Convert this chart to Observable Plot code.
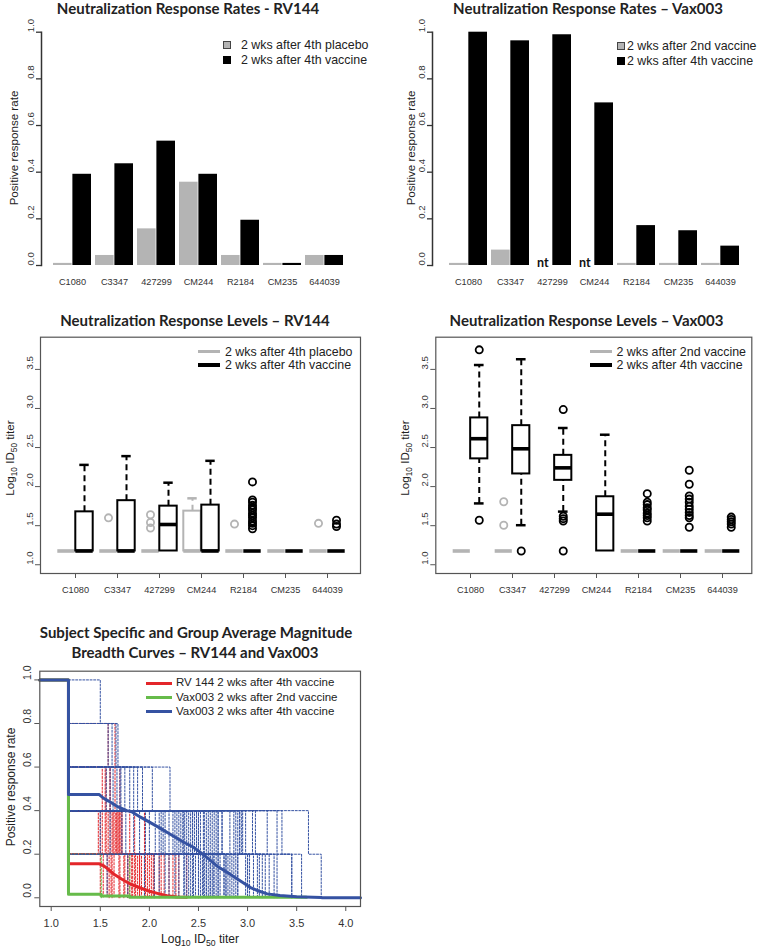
<!DOCTYPE html>
<html><head><meta charset="utf-8">
<script src="https://cdn.jsdelivr.net/npm/d3@7"></script>
<script src="https://cdn.jsdelivr.net/npm/@observablehq/plot@0.6"></script>
<style>
body{margin:0;background:#fff;}
#root{position:relative;width:766px;height:949px;overflow:hidden;font-family:"Liberation Sans",Arial,sans-serif;color:#222;background:#fff;}
#root svg{position:absolute;}
.t{position:absolute;white-space:nowrap;line-height:1.15;pointer-events:none;}
.title{font-family:Lato,"Open Sans",sans-serif;font-weight:700;font-size:15px;transform:translate(-50%,-50%);color:#222;}
.leg{font-size:12.4px;transform:translate(0,-50%);}
.ytitle{font-size:11.6px;transform:translate(-50%,-50%) rotate(-90deg);}
.xtitle{font-size:12px;transform:translate(-50%,-50%);}
sub{font-size:0.72em;vertical-align:-0.3em;line-height:0;}
.sw{position:absolute;}
</style></head>
<body><div id="root"></div>
<script>
// ---------------- data ----------------
const strains = ["C1080","C3347","427299","CM244","R2184","CM235","644039"];
// response rates
const rv144PlaceboRate = [0.009,0.043,0.157,0.357,0.043,0.009,0.043];
const rv144VaccineRate = [0.391,0.436,0.533,0.391,0.194,0.009,0.043];
const vax003SecondRate = [0.009,0.066,null,null,0.009,0.009,0.009];
const vax003FourthRate = [1.0,0.963,0.989,0.697,0.171,0.149,0.083];
const rateTicks = [0,0.2,0.4,0.6,0.8,1.0];
const titerTicks = [1.0,1.5,2.0,2.5,3.0,3.5];
const breadthTicks = [1.0,1.5,2.0,2.5,3.0,3.5,4.0];
const lod = 1.176;
// box stats: [q1, median, q3, lower whisker, upper whisker]
const rv144PlaceboBox = [[lod,lod,lod,lod,lod],[lod,lod,lod,lod,lod],[lod,lod,lod,lod,lod],[lod,lod,1.686,lod,1.85],[lod,lod,lod,lod,lod],[lod,lod,lod,lod,lod],[lod,lod,lod,lod,lod]];
const rv144PlaceboOut = [[],[1.6],[1.47,1.54,1.64],[],[1.52],[],[1.53]];
const rv144VaccineBox = [[lod,lod,1.677,lod,2.278],[lod,lod,1.82,lod,2.39],[lod,1.515,1.75,lod,2.05],[lod,lod,1.763,lod,2.33],[lod,lod,lod,lod,lod],[lod,lod,lod,lod,lod],[lod,lod,lod,lod,lod]];
const rv144VaccineOut = [[],[],[],[],[1.46,1.5,1.53,1.56,1.6,1.63,1.66,1.7,1.73,1.76,1.8,1.83,2.06],[],[1.49,1.52,1.57]];
const vax003SecondBox = [[lod,lod,lod,lod,lod],[lod,lod,lod,lod,lod],null,null,[lod,lod,lod,lod,lod],[lod,lod,lod,lod,lod],[lod,lod,lod,lod,lod]];
const vax003SecondOut = [[],[1.806,1.506],[],[],[],[],[]];
const vax003FourthBox = [[2.355,2.613,2.879,1.785,3.556],[2.162,2.484,2.78,1.506,3.63],[2.08,2.24,2.40,1.68,2.75],[lod,1.647,1.87,lod,2.664],[lod,lod,lod,lod,lod],[lod,lod,lod,lod,lod],[lod,lod,lod,lod,lod]];
const vax003FourthOut = [[3.75,1.57],[lod],[2.986,1.62,1.59,1.56,lod],[],[1.56,1.6,1.63,1.66,1.7,1.73,1.77,1.8,1.91],[1.48,1.6,1.63,1.67,1.71,1.75,1.8,1.84,1.88,2.03,2.21],[1.48,1.52,1.55,1.58,1.61]];
// magnitude-breadth: subject titers of positive isolates (5 isolates)
const nIsolates = 5;
const vax4Subjects = [[3.02,2.90,1.50,1.66,1.80],[2.65,2.42,1.58,1.93],[2.78,2.55,1.62,1.71],[2.52,2.2,1.68,1.84],
 [3.27,3.05,2.03],[2.86,2.7,2.21],[2.35,2.14,1.56],[2.6,2.46,1.75],[3.55,3.3,1.88],[2.47,2.32],
 [3.75,3.62],[3.45,3.2],[3.35,3.45],[3.18,2.98],[3.1,2.82],[2.95,3.12],[2.88,2.74],[2.82,2.64],[2.74,2.78],[2.7,2.6],
 [2.62,2.5],[2.58,2.48],[2.55,2.38],[2.42,2.26],[2.38,2.1],[2.3,2.0],[2.2,1.9],[2.05,1.72],[1.78,1.5],[1.57],
 [2.9,2.66],[2.45,2.3],[2.68,2.52],[3.0,2.86],[2.56,2.44],[2.76,2.58],[3.22,2.92],[2.5,2.16],[2.62,2.76],[2.84,2.68],
 [2.36,2.06],[3.06,2.94],[2.66,2.35],[2.48,2.62],[2.92,3.0],[2.72,2.4],[3.15,2.7],[2.4,2.24],[2.98,2.88],[2.8,2.56],
 [2.54,2.28],[3.3,3.08],[2.64,1.96],[2.44,2.12],[1.95,1.84],[2.26,1.6],[2.16,1.76],
 [2.58,2.34,1.63],[2.9,2.5,1.7],[2.7,2.44,1.6],[2.5,2.36,1.67],[2.1]];
const rv144Subjects = [[1.58,1.65,1.7,1.9],[1.65,1.7,1.95,2.27],[1.55,1.68,2.1],[1.6,1.72,1.88],[1.52,1.66,1.82],
 [1.5,1.8],[1.62,2.05],[1.48,1.75],[1.67,2.2],[1.56,1.92],[1.85,2.38],[1.7,1.98],
 [1.53],[1.64],[1.78],[1.9],[2.12],[1.59],[1.5],[2.3],
 [1.55,1.62],[1.72,1.85],[1.6,2.0],[1.66,1.78],[1.58,1.96],[1.52,1.7],[1.8,2.15],[1.63,1.9],
 [1.57],[1.69],[1.74],[1.83],[1.95],[2.02],[2.24],[1.61],[1.56,1.64,1.86],[1.6,1.69,2.04]];
const vax2Subjects = [[1.51],[1.8]];
// group-average curves [log10 titer, rate]
const rv144Mean = [[0.884,1],[1.176,1],[1.176,0.156],[1.49,0.156],[1.53,0.148],[1.57,0.135],[1.64,0.108],[1.72,0.085],[1.81,0.062],[1.91,0.045],[2.0,0.03],[2.1,0.018],[2.18,0.009],[2.28,0.004],[2.38,0.003]];
const vax2Mean = [[0.884,1],[1.176,1],[1.176,0.016],[1.51,0.016],[1.51,0.008],[1.8,0.008],[1.8,0.003],[3.6,0.003]];
const vax4Mean = [[0.884,1],[1.176,1],[1.176,0.474],[1.49,0.474],[1.53,0.458],[1.58,0.445],[1.67,0.42],[1.77,0.40],[1.82,0.395],[1.91,0.37],[2.01,0.345],[2.1,0.322],[2.2,0.295],[2.35,0.255],[2.45,0.232],[2.52,0.208],[2.6,0.18],[2.69,0.145],[2.8,0.115],[2.9,0.085],[3.03,0.047],[3.12,0.03],[3.2,0.018],[3.33,0.01],[3.5,0.005],[3.75,0.001],[3.76,0],[4.15,0]];

// ---------------- styles ----------------
const GRAY = "#b4b4b4";
const RED = "#e3262a", GREEN = "#66bb4a", BLUE = "#3552a2";
const FONT = "Liberation Sans, Arial, sans-serif";
const root = document.getElementById("root");

function place(svg, left, top) {
  svg.style.left = left + "px"; svg.style.top = top + "px"; root.appendChild(svg);
}
function txt(html, x, y, cls, extra) {
  const d = document.createElement("div");
  d.className = "t " + cls; d.innerHTML = html;
  d.style.left = x + "px"; d.style.top = y + "px";
  if (extra) Object.assign(d.style, extra);
  root.appendChild(d);
}
function swatch(x, y, w, h, color, border) {
  const d = document.createElement("div");
  d.className = "sw";
  Object.assign(d.style, {left: x + "px", top: y + "px", width: w + "px", height: h + "px", background: color, boxSizing: "border-box", border: border || "none"});
  root.appendChild(d);
}
const fmt1 = d => d.toFixed(1);

// ---------------- rate bar panels ----------------
function ratePanel(a, b, o) {
  const rows = [];
  strains.forEach((s, i) => {
    if (a[i] != null) rows.push({strain: s, v: a[i], g: 0});
    rows.push({strain: s, v: b[i], g: 1});
  });
  const pad = 0.085;
  const step = (o.x1 - o.x0) / (strains.length - pad);
  const bw = step * (1 - pad);
  const half = bw / 2;
  const nt = strains.filter((s, i) => a[i] == null);
  return Plot.plot({
    width: 383, height: 300,
    marginTop: 31.7, marginBottom: 35, marginLeft: o.axis, marginRight: 10,
    style: {fontFamily: FONT, color: "#222", background: "transparent", overflow: "visible"},
    x: {type: "band", domain: strains, range: [o.x0, o.x1], paddingInner: pad, paddingOuter: 0, label: null},
    y: {domain: [0, 1], label: null},
    marks: [
      Plot.frame({anchor: "left", stroke: "#333", strokeWidth: 1.5}),
      Plot.axisY({ticks: rateTicks, tickSize: 5, tickFormat: () => "", label: null, stroke: "#333", strokeWidth: 1.3}),
      Plot.text(rateTicks, {y: d => d, text: fmt1, frameAnchor: "left", dx: -11, rotate: -90, fontSize: 9.6, fill: "#333"}),
      Plot.axisX({tickSize: 0, tickPadding: 13, fontSize: 9.2, label: null, fill: "#333"}),
      Plot.barY(rows.filter(d => d.g === 0), {x: "strain", y: "v", fill: GRAY, insetRight: half}),
      Plot.barY(rows.filter(d => d.g === 1), {x: "strain", y: "v", fill: "#000", insetLeft: half}),
      Plot.text(nt, {x: d => d, y: () => 0, text: () => "nt", dx: -half / 2, lineAnchor: "bottom", dy: 1,
        fontFamily: "Lato, Open Sans, sans-serif", fontWeight: 700, fontSize: 12.5, fill: "#111"})
    ]
  });
}
place(ratePanel(rv144PlaceboRate, rv144VaccineRate, {axis: 41, x0: 52, x1: 345}), 0, 0);
place(ratePanel(vax003SecondRate, vax003FourthRate, {axis: 49, x0: 65, x1: 357}), 383, 0);

// ---------------- box panels ----------------
function boxPanel(gBox, gOut, kBox, kOut, o) {
  const bw = (o.x1 - o.x0) / strains.length;
  const boxW = o.boxW;
  const off = boxW / 2;
  const rows = (box, g) => strains.map((s, i) => box[i] ? {strain: s, g, q1: box[i][0], med: box[i][1], q3: box[i][2], lo: box[i][3], hi: box[i][4]} : null).filter(d => d);
  const outs = (out) => strains.flatMap((s, i) => out[i].map(v => ({strain: s, v})));
  const gr = rows(gBox, 0), kr = rows(kBox, 1);
  const sides = [
    {r: gr, out: outs(gOut), color: GRAY, dx: -off, inL: bw / 2 - boxW, inR: bw / 2, cL: bw / 2 - off - 5, cR: bw / 2 + off - 5},
    {r: kr, out: outs(kOut), color: "#000", dx: off, inL: bw / 2, inR: bw / 2 - boxW, cL: bw / 2 + off - 5, cR: bw / 2 - off - 5}
  ];
  const marks = [Plot.frame({stroke: "#555", strokeWidth: 1.2})];
  for (const s of sides) {
    marks.push(
      Plot.ruleX(s.r.filter(d => d.hi > d.q3), {x: "strain", y1: "q3", y2: "hi", dx: s.dx, stroke: s.color, strokeWidth: 2, strokeDasharray: "6,4"}),
      Plot.ruleX(s.r.filter(d => d.lo < d.q1), {x: "strain", y1: "lo", y2: "q1", dx: s.dx, stroke: s.color, strokeWidth: 2, strokeDasharray: "6,4"}),
      Plot.tickY(s.r.filter(d => d.hi > d.q3), {x: "strain", y: "hi", insetLeft: s.cL, insetRight: s.cR, stroke: s.color, strokeWidth: 2.5}),
      Plot.tickY(s.r.filter(d => d.lo < d.q1), {x: "strain", y: "lo", insetLeft: s.cL, insetRight: s.cR, stroke: s.color, strokeWidth: 2.5}),
      Plot.barY(s.r.filter(d => d.q3 > d.q1), {x: "strain", y1: "q1", y2: "q3", insetLeft: s.inL, insetRight: s.inR, fill: "white", stroke: s.color, strokeWidth: 2}),
      Plot.tickY(s.r, {x: "strain", y: "med", insetLeft: s.inL, insetRight: s.inR, stroke: s.color, strokeWidth: 3.6}),
      Plot.dot(s.out, {x: "strain", y: "v", dx: s.dx, r: 3.6, stroke: s.color, strokeWidth: 1.8, fill: "none"})
    );
  }
  marks.push(
    Plot.axisY({ticks: titerTicks, tickSize: 5, tickFormat: () => "", label: null, stroke: "#555"}),
    Plot.text(titerTicks, {y: d => d, text: fmt1, frameAnchor: "left", dx: -11, rotate: -90, fontSize: 9.6, fill: "#333"}),
    Plot.axisX({tickSize: 5, tickPadding: 8, fontSize: 9.2, label: null, stroke: "#555", fill: "#333"})
  );
  return Plot.plot({
    width: 383, height: 300,
    marginTop: 36.7, marginBottom: 27, marginLeft: o.ml, marginRight: o.mr,
    style: {fontFamily: FONT, color: "#222", background: "transparent", overflow: "visible"},
    x: {type: "band", domain: strains, range: [o.x0, o.x1], padding: 0, label: null},
    y: {domain: [0.888, 3.912], label: null},
    marks
  });
}
place(boxPanel(rv144PlaceboBox, rv144PlaceboOut, rv144VaccineBox, rv144VaccineOut, {ml: 40, mr: 23, x0: 51.4, x1: 349.6, boxW: 18}), 0, 300);
place(boxPanel(vax003SecondBox, vax003SecondOut, vax003FourthBox, vax003FourthOut, {ml: 52.3, mr: 14.7, x0: 64.8, x1: 361.2, boxW: 17.5}), 383, 300);

// ---------------- magnitude-breadth panel ----------------
function subjectPaths(subjects, prefix) {
  return subjects.flatMap((titers, j) => {
    const t = [...titers].sort((a, b) => a - b);
    const k = t.length;
    const pts = [{x: lod, y: k / nIsolates, id: prefix + j}];
    t.forEach((v, i) => pts.push({x: v, y: (k - i - 1) / nIsolates, id: prefix + j}));
    return pts;
  });
}
const dotted = {x: "x", y: "y", z: "id", curve: "step-after", strokeWidth: 1, strokeDasharray: "2,1.6"};
const mb = Plot.plot({
  width: 383, height: 329,
  marginTop: 50.7, marginBottom: 43, marginLeft: 39.3, marginRight: 23,
  style: {fontFamily: FONT, color: "#222", background: "transparent", overflow: "visible"},
  x: {domain: [0.884, 4.15], label: null},
  y: {domain: [-0.04, 1.04], label: null},
  marks: [
    Plot.line(subjectPaths(rv144Subjects, "r"), {...dotted, stroke: RED}),
    Plot.line(subjectPaths(vax2Subjects, "g"), {...dotted, stroke: GREEN}),
    Plot.line(subjectPaths(vax4Subjects, "v"), {...dotted, stroke: BLUE}),
    Plot.line(rv144Mean, {x: d => d[0], y: d => d[1], stroke: RED, strokeWidth: 3}),
    Plot.line(vax2Mean, {x: d => d[0], y: d => d[1], stroke: GREEN, strokeWidth: 3}),
    Plot.line(vax4Mean, {x: d => d[0], y: d => d[1], stroke: BLUE, strokeWidth: 3}),
    Plot.frame({stroke: "#555", strokeWidth: 1.2}),
    Plot.axisY({ticks: rateTicks, tickSize: 5, tickFormat: () => "", label: null, stroke: "#555"}),
    Plot.text(rateTicks, {y: d => d, text: fmt1, frameAnchor: "left", dx: -12, rotate: -90, fontSize: 10.5, fill: "#333"}),
    Plot.axisX({ticks: breadthTicks, tickSize: 5, tickPadding: 8, tickFormat: fmt1, fontSize: 11, label: null, stroke: "#555", fill: "#333"})
  ]
});
place(mb, 0, 620);

// ---------------- titles, axis titles, legends ----------------
txt("Neutralization Response Rates - RV144", 188, 9, "title");
txt("Neutralization Response Rates \u2013 Vax003", 588, 9, "title");
txt("Neutralization Response Levels \u2013 RV144", 195, 320.5, "title");
txt("Neutralization Response Levels \u2013 Vax003", 586.5, 320.5, "title");
txt("Subject Specific and Group Average Magnitude", 196, 632.5, "title");
txt("Breadth Curves \u2013 RV144 and Vax003", 195, 652.5, "title");

txt("Positive response rate", 14, 148, "ytitle");
txt("Positive response rate", 411, 148, "ytitle");
txt("Log<sub>10</sub> ID<sub>50</sub> titer", 10, 458, "ytitle");
txt("Log<sub>10</sub> ID<sub>50</sub> titer", 405, 458, "ytitle");
txt("Positive response rate", 12, 787, "ytitle", {fontSize: "12px"});
txt("Log<sub>10</sub> ID<sub>50</sub> titer", 200, 940, "xtitle");

// bar legends
swatch(222.5, 41, 8, 8, GRAY, "0.6px solid #444");
swatch(222.5, 56, 8, 8, "#000");
txt("2 wks after 4th placebo", 241, 45, "leg");
txt("2 wks after 4th vaccine", 241, 60, "leg");
swatch(616.5, 42, 8, 8, GRAY, "0.6px solid #444");
swatch(616.5, 57, 8, 8, "#000");
txt("2 wks after 2nd vaccine", 627, 46, "leg");
txt("2 wks after 4th vaccine", 627, 61, "leg");
// box legends
swatch(198, 350.2, 22, 3.2, GRAY);
swatch(198, 363.4, 22, 3.2, "#000");
txt("2 wks after 4th placebo", 225, 352, "leg");
txt("2 wks after 4th vaccine", 225, 365, "leg");
swatch(589.7, 350.2, 22.6, 3.2, GRAY);
swatch(589.7, 363.4, 22.6, 3.2, "#000");
txt("2 wks after 2nd vaccine", 616.5, 352, "leg");
txt("2 wks after 4th vaccine", 616.5, 365, "leg");
// breadth legend
swatch(145.7, 681.5, 26, 3, RED);
swatch(145.7, 696, 26, 3, GREEN);
swatch(145.7, 710.2, 26, 3, BLUE);
txt("RV 144 2 wks after 4th vaccine", 176, 683, "leg", {fontSize: "11.5px"});
txt("Vax003 2 wks after 2nd vaccine", 176, 697.5, "leg", {fontSize: "11.5px"});
txt("Vax003 2 wks after 4th vaccine", 176, 711.7, "leg", {fontSize: "11.5px"});
</script>
</body></html>
